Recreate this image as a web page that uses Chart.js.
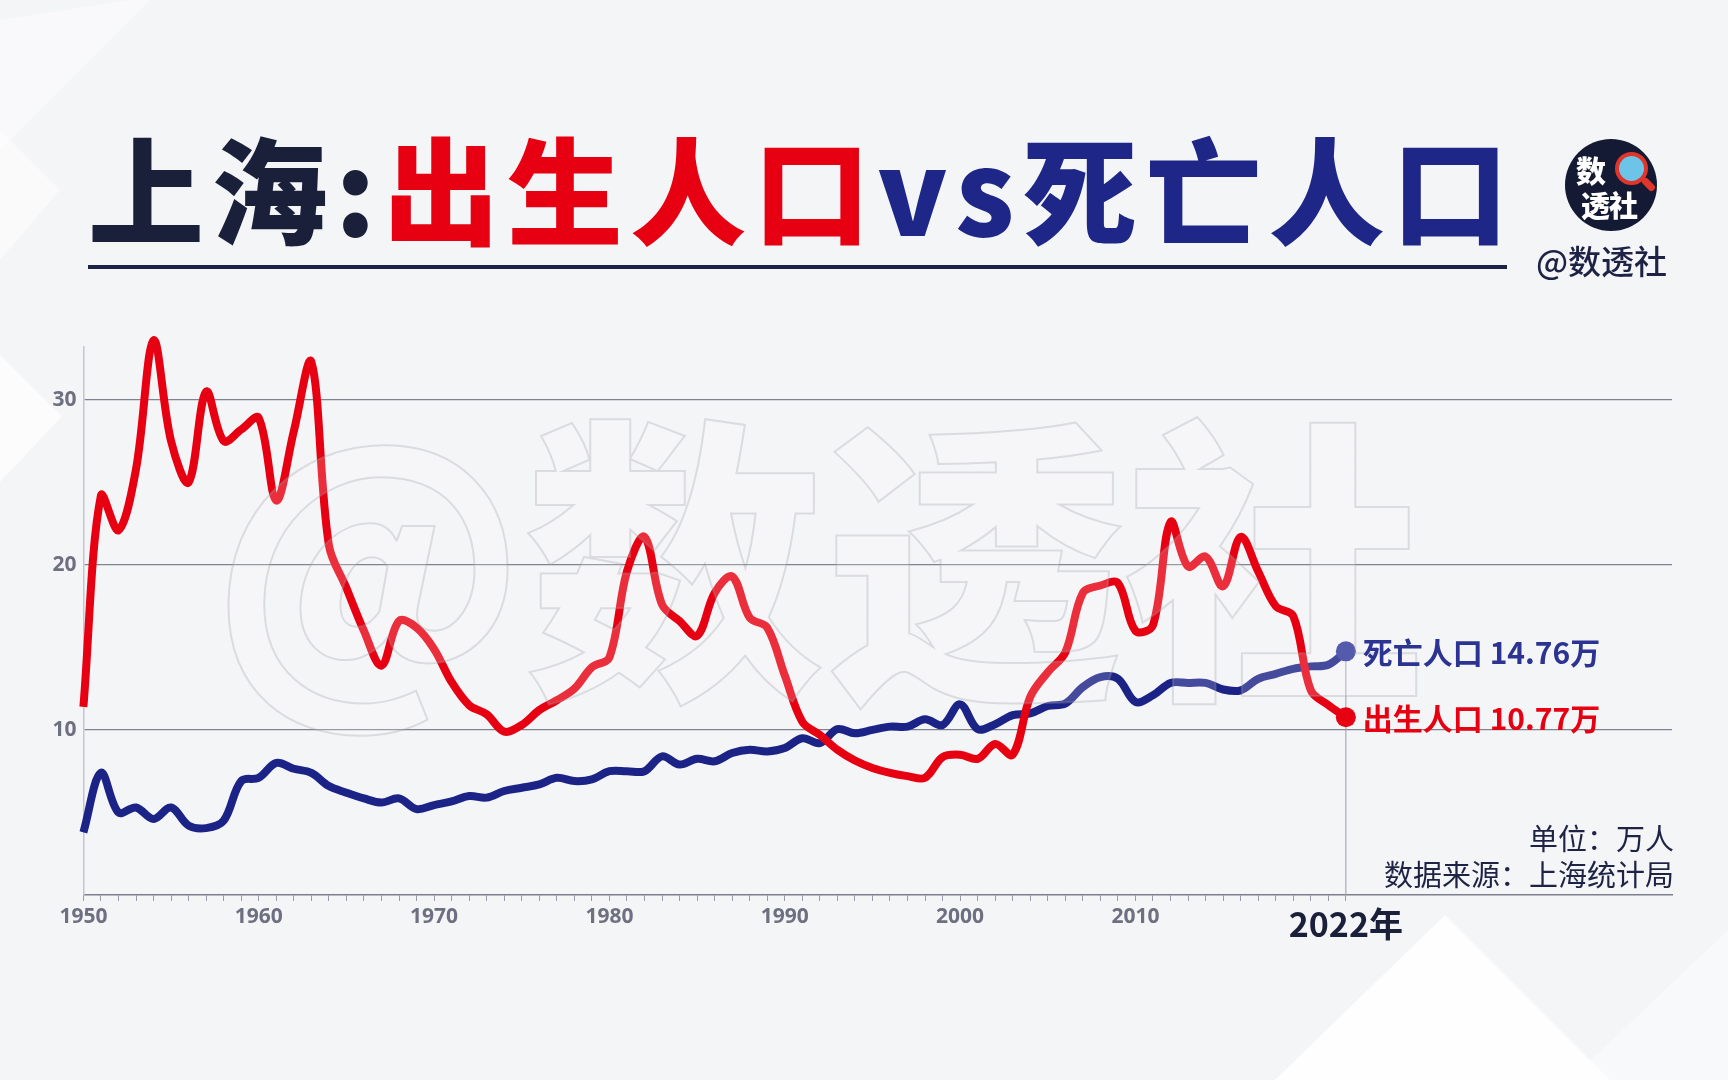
<!DOCTYPE html>
<html lang="zh-CN">
<head>
<meta charset="utf-8">
<title>上海：出生人口vs死亡人口</title>
<script src="https://cdn.jsdelivr.net/npm/chart.js@4.4.1/dist/chart.umd.min.js"></script>
<style>
  html, body { margin: 0; padding: 0; }
  body {
    width: 1728px; height: 1080px; overflow: hidden; position: relative;
    background: #f4f5f7;
    font-family: "Noto Sans CJK SC", "Open Sans", sans-serif;
  }
  .shape { position: absolute; background: #ffffff; }
  #s1 { left: 0; top: 0; width: 200px; height: 300px; opacity: .45;
        clip-path: polygon(0 20px, 130px 0, 150px 0, 0 150px); }
  #s1b { left: 0; top: 0; width: 200px; height: 560px; opacity: .5;
         clip-path: polygon(0 130px, 60px 190px, 0 260px); }
  #s1c { left: 0; top: 0; width: 200px; height: 560px; opacity: .7;
         clip-path: polygon(0 355px, 62px 416px, 0 482px); }
  #s2 { left: 1150px; top: 860px; width: 578px; height: 220px; opacity: .85;
        clip-path: polygon(125px 220px, 295px 55px, 460px 220px); }
  #s2b { left: 1150px; top: 860px; width: 578px; height: 220px; opacity: .4;
         clip-path: polygon(420px 220px, 578px 70px, 578px 220px); }
  #chart { position: absolute; left: 0; top: 0; z-index: 1; }
  #title {
    position: absolute; left: 88px; top: 127px; z-index: 2;
    font-size: 116px; font-weight: 900; line-height: 116px; letter-spacing: 7.5px;
    white-space: nowrap;
  }
  #title .dark { color: #1a1f3a; }
  #title .red { color: #e60012; }
  #title .blue { color: #1e2787; }
  #rule { position: absolute; left: 88px; top: 265px; width: 1419px; height: 4px; background: #1e2345; z-index: 2; }
  #logo {
    position: absolute; left: 1565px; top: 139px; width: 92px; height: 92px;
    border-radius: 50%; background: #141a33; z-index: 2; overflow: hidden;
  }
  #logo .t1, #logo .t2 { position: absolute; color: #fff; font-weight: 900; line-height: 30px; }
  #logo .t1 { left: 11px; top: 15px; font-size: 30px; }
  #logo .t2 { left: 16px; top: 50px; font-size: 29px; letter-spacing: -1px; }
  #lens {
    position: absolute; left: 50px; top: 13px; width: 25px; height: 25px; border-radius: 50%;
    background: #6cc4e8; border: 4px solid #e0352b;
  }
  #handle {
    position: absolute; left: 76px; top: 42px; width: 15px; height: 7px; background: #e0352b;
    transform: rotate(45deg); border-radius: 3px;
  }
  #brand { position: absolute; left: 1536px; top: 238px; font-size: 33px; line-height: 44px; color: #1e2345; z-index: 2; font-weight: 500; }
  .note { position: absolute; right: 54px; font-size: 29px; line-height: 36px; color: #1e2345; z-index: 2; white-space: nowrap; }
  #unit { top: 819px; }
  #src { top: 855px; }
</style>
</head>
<body>
<div class="shape" id="s1"></div>
<div class="shape" id="s1b"></div>
<div class="shape" id="s1c"></div>
<div class="shape" id="s2"></div>
<div class="shape" id="s2b"></div>
<canvas id="chart" width="1728" height="1080"></canvas>
<div id="title"><span class="dark">上海:</span><span class="red">出生人口</span><span class="blue">vs死亡人口</span></div>
<div id="rule"></div>
<div id="logo"><span class="t1">数</span><span class="t2">透社</span><div id="lens"></div><div id="handle"></div></div>
<div id="brand">@数透社</div>
<div class="note" id="unit">单位：万人</div>
<div class="note" id="src">数据来源：上海统计局</div>
<script>
'use strict'

// DATA (万人)
const years = [
  1950, 1951, 1952, 1953, 1954, 1955, 1956, 1957, 1958, 1959,
  1960, 1961, 1962, 1963, 1964, 1965, 1966, 1967, 1968, 1969,
  1970, 1971, 1972, 1973, 1974, 1975, 1976, 1977, 1978, 1979,
  1980, 1981, 1982, 1983, 1984, 1985, 1986, 1987, 1988, 1989,
  1990, 1991, 1992, 1993, 1994, 1995, 1996, 1997, 1998, 1999,
  2000, 2001, 2002, 2003, 2004, 2005, 2006, 2007, 2008, 2009,
  2010, 2011, 2012, 2013, 2014, 2015, 2016, 2017, 2018, 2019,
  2020, 2021, 2022
];

const births = [
  11.4, 24.2, 22.1, 25.8, 33.6, 27.5, 25.0, 30.5, 27.5, 28.2,
  28.9, 23.9, 28.1, 32.3, 21.2, 18.6, 16.0, 13.9, 16.6, 16.2,
  14.9, 12.9, 11.5, 10.95, 9.9, 10.3, 11.2, 11.8, 12.5, 13.8,
  14.4, 19.6, 21.7, 17.6, 16.6, 15.7, 18.3, 19.3, 16.8, 16.2,
  13.3, 10.5, 9.7, 8.8, 8.15, 7.7, 7.4, 7.2, 7.1, 8.35,
  8.5, 8.25, 9.15, 8.5, 12.0, 13.5, 14.7, 18.3, 18.75, 18.9,
  16.0, 16.35, 22.6, 19.9, 20.5, 18.7, 21.7, 19.6, 17.5, 16.9,
  12.4, 11.5, 10.77
];

const deaths = [
  3.8, 7.4, 5.0, 5.3, 4.6, 5.3, 4.2, 4.05, 4.5, 6.9,
  7.1, 8.0, 7.65, 7.4, 6.6, 6.2, 5.85, 5.6, 5.85, 5.2,
  5.45, 5.67, 6.0, 5.9, 6.3, 6.5, 6.7, 7.1, 6.9, 7.0,
  7.5, 7.5, 7.5, 8.4, 7.9, 8.25, 8.1, 8.6, 8.8, 8.7,
  8.9, 9.5, 9.2, 10.05, 9.8, 10.0, 10.2, 10.2, 10.65, 10.3,
  11.55, 10.05, 10.35, 10.9, 11.0, 11.45, 11.6, 12.6, 13.2, 13.1,
  11.7, 12.1, 12.85, 12.85, 12.85, 12.45, 12.4, 13.1, 13.4, 13.7,
  13.85, 13.95, 14.76
];

const yTicks = [10, 20, 30];
const xLabelYears = [1950, 1960, 1970, 1980, 1990, 2000, 2010];
const lastYear = 2022;

const RED = '#e60012';
const BLUE = '#1c2387';
const BLUE_DOT = '#2f379a';
const LAST = years.length - 1;

function toPoints(vals) {
  return vals.map((v, i) => ({ x: years[i], y: v }));
}

// extra drawing: 2022 guide line, watermark, end labels
const overlay = {
  id: 'overlay',
  beforeDatasetsDraw(chart) {
    const ctx = chart.ctx;
    const x = chart.scales.x.getPixelForValue(lastYear);
    const yTop = chart.scales.y.getPixelForValue(deaths[LAST]);
    ctx.save();
    ctx.strokeStyle = '#9a9dab';
    ctx.lineWidth = 1;
    ctx.beginPath();
    ctx.moveTo(x, yTop);
    ctx.lineTo(x, chart.chartArea.bottom);
    ctx.stroke();
    ctx.restore();
  },
  afterDatasetsDraw(chart) {
    const ctx = chart.ctx;
    ctx.save();
    ctx.font = '900 300px "Noto Sans CJK SC"';
    ctx.textBaseline = 'middle';
    ctx.fillStyle = 'rgba(255,255,255,0.18)';
    ctx.strokeStyle = 'rgba(160,160,166,0.3)';
    ctx.lineWidth = 2;
    ctx.fillText('@数透社', 212, 562);
    ctx.strokeText('@数透社', 212, 562);
    ctx.restore();

    const items = [
      { i: 1, text: '死亡人口 ' + deaths[LAST] + '万', color: '#2b3492' },
      { i: 0, text: '出生人口 ' + births[LAST] + '万', color: RED }
    ];
    ctx.save();
    ctx.font = 'bold 30px "Noto Sans CJK SC"';
    ctx.textBaseline = 'middle';
    items.forEach(it => {
      const pt = chart.getDatasetMeta(it.i).data[LAST];
      ctx.fillStyle = it.color;
      ctx.fillText(it.text, pt.x + 17, pt.y + 1);
    });
    ctx.restore();
  }
};

const lastOnly = r => (c => c.dataIndex === LAST ? r : 0);

new Chart(document.getElementById('chart'), {
  type: 'line',
  data: {
    datasets: [
      {
        label: '出生人口',
        data: toPoints(births),
        borderColor: RED,
        backgroundColor: RED,
        borderWidth: 8,
        tension: 0.35,
        pointRadius: lastOnly(10),
        pointBorderWidth: 0,
        pointBackgroundColor: RED,
        clip: false
      },
      {
        label: '死亡人口',
        data: toPoints(deaths),
        borderColor: BLUE,
        backgroundColor: BLUE_DOT,
        borderWidth: 8,
        tension: 0.35,
        pointRadius: lastOnly(10),
        pointBorderWidth: 0,
        pointBackgroundColor: BLUE_DOT,
        clip: false
      }
    ]
  },
  options: {
    responsive: false,
    animation: false,
    layout: { padding: { top: 347, right: 56, left: 0, bottom: 0 } },
    plugins: { legend: { display: false }, tooltip: { enabled: false } },
    scales: {
      x: {
        type: 'linear',
        min: 1950,
        max: 2040.6,
        afterBuildTicks: s => { s.ticks = years.map(v => ({ value: v })); },
        afterFit: s => { s.height = 185; },
        grid: { drawOnChartArea: false, drawTicks: true, tickLength: 6, color: '#9a9eab', lineWidth: 1 },
        border: { color: '#7d808c', width: 1.5 },
        ticks: {
          autoSkip: false,
          maxRotation: 0,
          padding: 3,
          callback: v => v === lastYear ? '2022年' : (xLabelYears.includes(v) ? String(v) : ''),
          font: c => (c.tick && c.tick.value === lastYear)
            ? { family: 'Noto Sans CJK SC', size: 34, weight: 'bold' }
            : { family: 'Open Sans', size: 21, weight: 'bold' },
          color: c => (c.tick && c.tick.value === lastYear) ? '#1a1f3a' : '#6d7080'
        }
      },
      y: {
        min: 0,
        max: 33.2,
        afterBuildTicks: s => { s.ticks = [0].concat(yTicks).map(v => ({ value: v })); },
        afterFit: s => { s.width = 83.4; },
        grid: {
          color: c => c.tick && c.tick.value === 0 ? 'rgba(0,0,0,0)' : '#80838f',
          lineWidth: 1.2,
          drawTicks: false
        },
        border: { color: '#c3c6ce', width: 1.5 },
        ticks: {
          padding: 7,
          callback: v => v === 0 ? '' : v,
          font: { family: 'Open Sans', size: 21, weight: 'bold' },
          color: '#6d7080'
        }
      }
    }
  },
  plugins: [overlay]
});
</script>
</body>
</html>
